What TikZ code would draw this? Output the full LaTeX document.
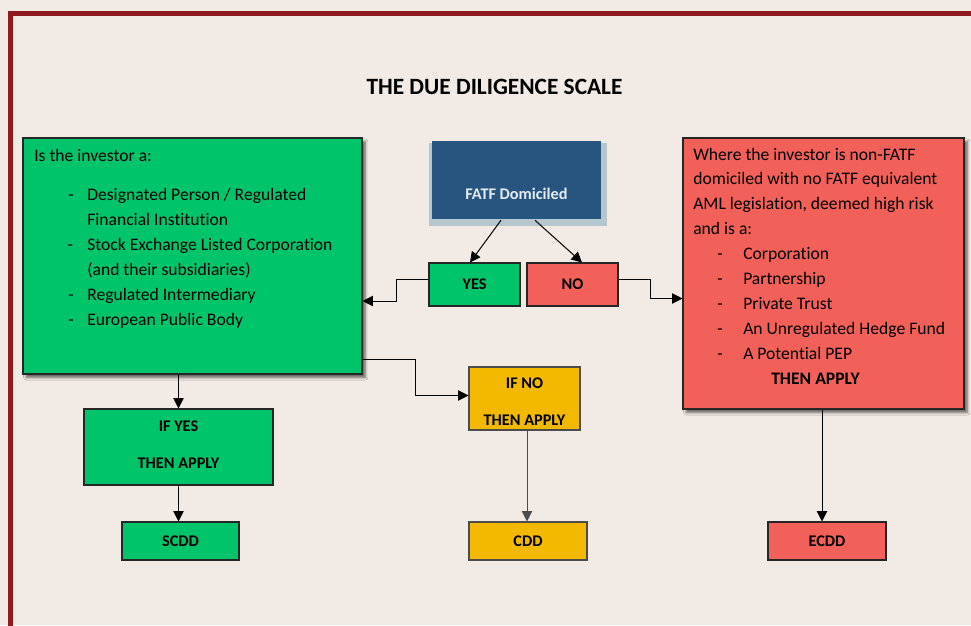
\documentclass[tikz,border=0pt]{standalone}
\usepackage{fontspec}
\setmainfont[Ligatures=NoCommon]{Carlito}
\usetikzlibrary{fit,calc,arrows.meta,shadows.blur}
\definecolor{bgc}{HTML}{F2EAE4}
\definecolor{framec}{HTML}{8E1B1E}
\definecolor{gfill}{HTML}{00C46A}
\definecolor{rfill}{HTML}{F26159}
\definecolor{yfill}{HTML}{F2B900}
\definecolor{bfill}{HTML}{27557F}
\definecolor{bshadow}{HTML}{B6C6CE}
\definecolor{btext}{HTML}{E6ECF2}
\tikzset{
  boxbase/.style={inner sep=0pt, draw=black!85, line width=0.8pt},
  gbox/.style={boxbase, fill=gfill},
  rbox/.style={boxbase, fill=rfill},
  ybox/.style={boxbase, fill=yfill, draw=black!70},
  bigshadow/.style={blur shadow={shadow xshift=2.4pt, shadow yshift=-2.6pt, shadow blur steps=6, shadow opacity=60}},
  conn/.style={line width=0.75pt, -{Triangle[width=7.8pt,length=7.8pt]}},
  label/.style={inner sep=0pt, align=center, font=\fontsize{12.2}{27.75}\selectfont\bfseries},
  bodytext/.style={inner sep=0pt, anchor=base west, align=left, font=\fontsize{13.2}{18.7}\selectfont},
}
\begin{document}
\begin{tikzpicture}[x=0.75pt,y=-0.75pt]
\fill[bgc] (0,0) rectangle (971,625);
\useasboundingbox (0,0) rectangle (971,625);
\clip (0,0) rectangle (971,625);
\draw[framec, line width=3.75pt] (10.5,640) -- (10.5,13) -- (990,13);

\node[font=\fontsize{17.5}{20}\selectfont\bfseries] (title) at (494.5,87) {THE DUE DILIGENCE SCALE};

% FATF box
\fill[bshadow] (429,143) rectangle (607,226);
\node[fit={(432,141) (601,219)}, inner sep=0pt, fill=bfill] (fatf) {};
\node[label, text=btext] (fatft) at (516.5,194) {FATF Domiciled};

% YES / NO
\node[gbox, fit={(429,263) (520,306)}] (yes) {};
\node[label] (yest) at (yes) {YES};
\node[rbox, fit={(527,263) (618,306)}] (no) {};
\node[label] (not) at (no) {NO};

% green main box
\node[gbox, bigshadow, fit={(23,138) (362,374)}] (green) {};
\node[bodytext] (greent) at (34,325) {Is the investor a:\\[10.7pt]
\hspace*{25.5pt}\makebox[14.25pt][l]{-}Designated Person / Regulated\\
\hspace*{39.75pt}Financial Institution\\
\hspace*{25pt}\makebox[14.75pt][l]{-}Stock Exchange Listed Corporation\\
\hspace*{39.75pt}(and their subsidiaries)\\
\hspace*{25.5pt}\makebox[14.25pt][l]{-}Regulated Intermediary\\
\hspace*{25.5pt}\makebox[14.25pt][l]{-}European Public Body};

% red main box
\node[rbox, bigshadow, fit={(683,138) (964,409)}] (red) {};
\node[bodytext] (redt) at (693,384.4) {Where the investor is non-FATF\\
domiciled with no FATF equivalent\\
AML legislation, deemed high risk\\
and is a:\\
\hspace*{18pt}\makebox[19.5pt][l]{-}Corporation\\
\hspace*{18pt}\makebox[19.5pt][l]{-}Partnership\\
\hspace*{18pt}\makebox[19.5pt][l]{-}Private Trust\\
\hspace*{18pt}\makebox[19.5pt][l]{-}An Unregulated Hedge Fund\\
\hspace*{18pt}\makebox[19.5pt][l]{-}A Potential PEP\\
\hspace*{58.5pt}\textbf{THEN APPLY}};

% IF YES / IF NO
\node[gbox, fit={(84,409) (273,485)}] (ifyes) {};
\node[label] (ifyest) at (178.5,444.5) {IF YES\\THEN APPLY};
\node[ybox, fit={(469,367) (580,430)}] (ifno) {};
\node[label] (ifnot) at (524.5,401.5) {IF NO\\THEN APPLY};

% results
\node[gbox, fit={(122,522) (239,560)}] (scdd) {};
\node[label] (scddt) at (scdd) {SCDD};
\node[ybox, fit={(469,522) (587,560)}] (cdd) {};
\node[label] (cddt) at (cdd) {CDD};
\node[rbox, fit={(768,522) (886,560)}] (ecdd) {};
\node[label] (ecddt) at (ecdd) {ECDD};

% connectors
\draw[conn] ($(fatf.south)+(-15.5,1)$) -- ($(yes.north)+(-4.5,0)$);
\draw[conn] ($(fatf.south)+(18.5,1)$) -- ($(no.north)+(9.5,0)$);
\draw[conn] ($(yes.west)+(0,-5.5)$) -- ++(-32,0) |- ($(green.east)+(0,45)$);
\draw[conn] ($(no.east)+(0,-5.5)$) -- ++(32,0) |- ($(red.west)+(0,25)$);
\draw[conn] (ifyes.north |- green.south) -- (ifyes.north);
\draw[conn] (ifyes.south) -- (scdd.north -| ifyes.south);
\draw[conn] ($(green.east)+(0,103)$) -- ++(53,0) |- ($(ifno.west)+(0,-3)$);
\draw[conn, draw=black!70] (ifno.south -| 527,0) -- (cdd.north -| 527,0);
\draw[conn] (red.south -| 822,0) -- (ecdd.north -| 822,0);
\end{tikzpicture}
\end{document}
